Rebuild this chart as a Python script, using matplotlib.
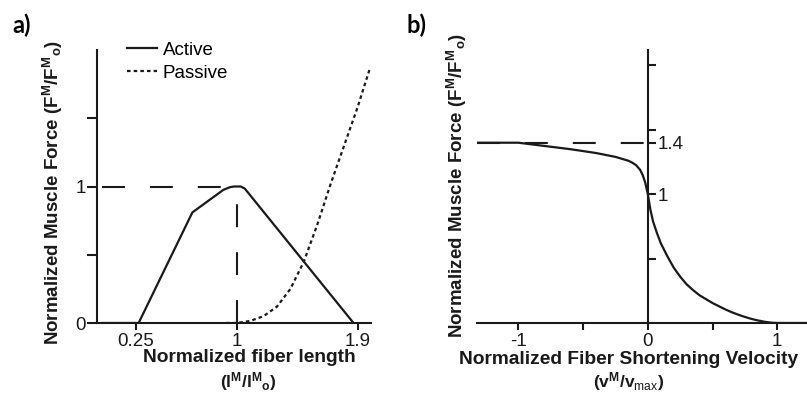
import numpy as np
import matplotlib.pyplot as plt

plt.rcParams['font.family'] = ['Liberation Sans', 'DejaVu Sans']
plt.rcParams['mathtext.fontset'] = 'custom'
plt.rcParams['mathtext.rm'] = 'Liberation Sans'
plt.rcParams['mathtext.it'] = 'Liberation Sans:italic'
plt.rcParams['mathtext.bf'] = 'Liberation Sans:bold'

INK = '#1a1a1a'

# a) force-length relation
length_active = [0.0, 0.27, 0.67, 0.90, 0.95, 0.98, 1.03, 1.06, 1.87]
force_active = [0.0, 0.0, 0.81, 0.975, 0.995, 1.0, 1.0, 0.985, 0.0]
length_passive = [0.92, 1.0, 1.1, 1.2, 1.3, 1.4, 1.5, 1.6, 1.7, 1.8, 1.9, 1.99]
force_passive = [0.0, 0.0, 0.015, 0.05, 0.12, 0.25, 0.45, 0.72, 1.02, 1.30, 1.58, 1.86]
length_ticks = [0.25, 1, 1.9]
length_ticklabels = ['0.25', '1', '1.9']
force_ticks_a = [0, 0.5, 1, 1.5]
force_ticklabels_a = ['0', '', '1', '']

# b) force-velocity relation
velocity = [-1.32, -1.0, -0.8, -0.6, -0.4, -0.25, -0.15, -0.12, -0.09, -0.06, -0.04, -0.02, 0.0,
            0.01, 0.02, 0.04, 0.07, 0.1, 0.15, 0.2, 0.25, 0.3, 0.35, 0.4, 0.45, 0.5, 0.55,
            0.6, 0.65, 0.7, 0.75, 0.8, 0.85, 0.9, 0.95, 1.0, 1.23]
force_velocity = [1.40, 1.40, 1.375, 1.35, 1.32, 1.29, 1.26, 1.245, 1.225, 1.19, 1.15, 1.09, 1.0,
                  0.94, 0.88, 0.79, 0.70, 0.62, 0.52, 0.43, 0.36, 0.30, 0.255, 0.215, 0.185, 0.155, 0.13,
                  0.105, 0.083, 0.064, 0.047, 0.032, 0.02, 0.01, 0.003, 0.0, 0.0]
velocity_ticks = [-1, -0.5, 0, 0.5, 1]
velocity_ticklabels = ['-1', '', '0', '', '1']
force_ticks_b = [0.5, 1, 1.4, 1.5, 2.0]
force_ticklabels_b = ['', '1', '1.4', '', '']

W, H = 807, 394
fig = plt.figure(figsize=(W / 100, H / 100), dpi=100)

# ---- panel a ----
ax1 = fig.add_axes([97 / W, 1 - 323 / H, 274 / W, 273 / H])
ax1.plot(length_active, force_active, color=INK, lw=1.6, label='Active')
ax1.plot(length_passive, force_passive, color=INK, lw=1.6, ls=(0, (1.6, 1.4)), label='Passive')
ax1.plot([0, 1], [1, 1], color=INK, lw=1.5, ls=(0, (11, 12)))
ax1.plot([1, 1], [0, 1], color=INK, lw=1.5, ls=(0, (11, 12)))
ax1.set_xlim(-0.04, 2.0)
ax1.set_ylim(0, 2.0)
for s in ['top', 'right']:
    ax1.spines[s].set_visible(False)
for s in ['left', 'bottom']:
    ax1.spines[s].set_linewidth(1.5)
    ax1.spines[s].set_color(INK)
ax1.set_xticks(length_ticks)
ax1.set_xticklabels(length_ticklabels)
ax1.set_yticks(force_ticks_a)
ax1.set_yticklabels(force_ticklabels_a)
ax1.tick_params(axis='x', direction='out', length=5, width=1.5, colors=INK, labelsize=13.5, pad=2)
ax1.tick_params(axis='y', direction='out', length=7, width=1.5, colors=INK, labelsize=13.5, pad=1)
ax1.set_ylabel(r'Normalized Muscle Force (F$^{\mathbf{M}}$/F$^{\mathbf{M}}{}_{\mathbf{o}}$)',
               fontsize=13.5, fontweight='bold', color=INK)
ax1.yaxis.set_label_coords(-0.117, 0.476)
ax1.text(0.555, -0.128, 'Normalized fiber length', transform=ax1.transAxes,
         ha='center', va='center', fontsize=13.8, fontweight='bold', color=INK)
ax1.text(0.552, -0.215, r'(l$^{\mathbf{M}}$/l$^{\mathbf{M}}{}_{\mathbf{o}}$)', transform=ax1.transAxes,
         ha='center', va='center', fontsize=12.5, fontweight='bold', color=INK)
ax1.legend(loc='upper left', bbox_to_anchor=(0.11, 1.03), frameon=False, fontsize=13.5,
           handlelength=1.6, handletextpad=0.3, borderpad=0, borderaxespad=0, labelspacing=0.3)

# ---- panel b ----
ax2 = fig.add_axes([477 / W, 1 - 323 / H, 330 / W, 273 / H])
ax2.plot([-1.32, 0], [1.4, 1.4], color=INK, lw=1.5, ls=(0, (11, 12)))
ax2.plot(velocity, force_velocity, color=INK, lw=1.6)
ax2.set_xlim(-1.32, 1.23)
ax2.set_ylim(0, 2.12)
ax2.spines['top'].set_visible(False)
ax2.spines['left'].set_visible(False)
ax2.spines['right'].set_position(('data', 0))
for s in ['right', 'bottom']:
    ax2.spines[s].set_linewidth(1.5)
    ax2.spines[s].set_color(INK)
ax2.yaxis.tick_right()
ax2.set_xticks(velocity_ticks)
ax2.set_xticklabels(velocity_ticklabels)
ax2.set_yticks(force_ticks_b)
ax2.set_yticklabels(force_ticklabels_b)
ax2.tick_params(axis='x', direction='out', length=5, width=1.5, colors=INK, labelsize=13.5, pad=2)
ax2.tick_params(axis='y', direction='out', length=6, width=1.5, colors=INK, labelsize=13.5, pad=1)
ax2.text(-0.06, 0.505, r'Normalized Muscle Force (F$^{\mathbf{M}}$/F$^{\mathbf{M}}{}_{\mathbf{o}}$)',
         transform=ax2.transAxes, rotation=90, ha='center', va='center',
         fontsize=13.5, fontweight='bold', color=INK)
ax2.text(0.46, -0.135, 'Normalized Fiber Shortening Velocity', transform=ax2.transAxes,
         ha='center', va='center', fontsize=13.8, fontweight='bold', color=INK)
ax2.text(0.46, -0.215, r'(v$^{\mathbf{M}}$/v$_{\mathrm{max}}$)', transform=ax2.transAxes,
         ha='center', va='center', fontsize=12.5, fontweight='bold', color=INK)

# panel letters
fig.text(12 / W, 1 - 33 / H, 'a)', fontsize=17, fontweight='bold', family=['Lato', 'DejaVu Sans'])
fig.text(407 / W, 1 - 33 / H, 'b)', fontsize=17, fontweight='bold', family=['Lato', 'DejaVu Sans'])

fig.savefig('out.png', dpi=100)
